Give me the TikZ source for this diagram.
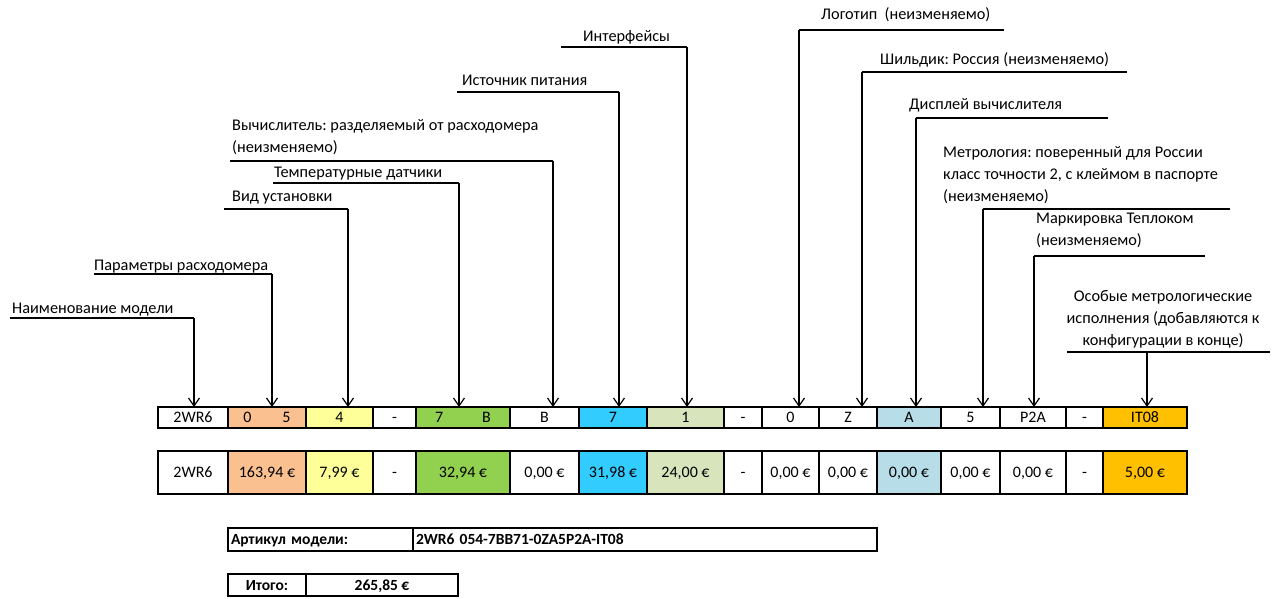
\documentclass[tikz,border=0pt]{standalone}
\usepackage{fontspec}
\setmainfont{Carlito}
\frenchspacing
\usetikzlibrary{arrows.meta}
\definecolor{cOrange}{HTML}{FAC090}
\definecolor{cYellow}{HTML}{FFFF99}
\definecolor{cGreen}{HTML}{92D050}
\definecolor{cCyan}{HTML}{33CCFF}
\definecolor{cLGreen}{HTML}{D8E4BC}
\definecolor{cLBlue}{HTML}{B7DEE8}
\definecolor{cGold}{HTML}{FFC000}
\tikzset{
  lbl/.style={inner sep=0pt, anchor=base west, font=\fontsize{16.3}{22}\selectfont, align=left},
  lblc/.style={inner sep=0pt, anchor=base, font=\fontsize{16.3}{22}\selectfont, align=center},
  hline/.style={line width=1.8pt},
  arr/.style={line width=1.2pt, -{Straight Barb[length=8pt,width=11pt,line width=1.2pt]}},
  cellbox/.style={draw, line width=2pt, inner sep=0pt, outer sep=0pt, text height=10.3pt, text depth=0pt, font=\fontsize{16}{18}\selectfont},
  boxleft/.style={draw, line width=2pt, inner sep=0pt, outer sep=0pt, text height=10pt, text depth=0pt, font=\bfseries\fontsize{15.5}{18}\selectfont, align=left},
  boxmid/.style={draw, line width=2pt, inner sep=0pt, outer sep=0pt, text height=10pt, text depth=0pt, font=\bfseries\fontsize{15.5}{18}\selectfont}
}
% cell macro: name, left, right, ycenter, height, fill, text
\newcommand{\mycell}[7]{%
  \pgfmathsetmacro{\cw}{#3-#2}\pgfmathsetmacro{\cx}{(#2+#3)/2}%
  \node[cellbox, fill=#6, minimum width=\cw pt, minimum height=#5pt] (#1) at (\cx,#4) {#7};}
\begin{document}
\begin{tikzpicture}[x=1pt,y=-1pt]
\useasboundingbox (0,0) rectangle (1279,598);
% ---------- code row ----------
\mycell{c1}{158}{228}{417.5}{21}{white}{2WR6}
\mycell{c2}{228}{306}{417.5}{21}{cOrange}{0\hspace{31pt}5}
\mycell{c3}{306}{373}{417.5}{21}{cYellow}{4}
\mycell{c4}{373}{416}{417.5}{21}{white}{-}
\mycell{c5}{416}{510}{417.5}{21}{cGreen}{7\hspace{39pt}B}
\mycell{c6}{510}{579}{417.5}{21}{white}{B}
\mycell{c7}{579}{647}{417.5}{21}{cCyan}{7}
\mycell{c8}{647}{724}{417.5}{21}{cLGreen}{1}
\mycell{c9}{724}{762}{417.5}{21}{white}{-}
\mycell{c10}{762}{819}{417.5}{21}{white}{0}
\mycell{c11}{819}{877}{417.5}{21}{white}{Z}
\mycell{c12}{877}{941}{417.5}{21}{cLBlue}{A}
\mycell{c13}{941}{1000}{417.5}{21}{white}{5}
\mycell{c14}{1000}{1066}{417.5}{21}{white}{P2A}
\mycell{c15}{1066}{1103}{417.5}{21}{white}{-}
\mycell{c16}{1103}{1187}{417.5}{21}{cGold}{IT08}
% ---------- price row ----------
\mycell{p1}{158}{228}{472.5}{43}{white}{2WR6}
\mycell{p2}{228}{306}{472.5}{43}{cOrange}{163,94 €}
\mycell{p3}{306}{373}{472.5}{43}{cYellow}{7,99 €}
\mycell{p4}{373}{416}{472.5}{43}{white}{-}
\mycell{p5}{416}{510}{472.5}{43}{cGreen}{32,94 €}
\mycell{p6}{510}{579}{472.5}{43}{white}{0,00 €}
\mycell{p7}{579}{647}{472.5}{43}{cCyan}{31,98 €}
\mycell{p8}{647}{724}{472.5}{43}{cLGreen}{24,00 €}
\mycell{p9}{724}{762}{472.5}{43}{white}{-}
\mycell{p10}{762}{819}{472.5}{43}{white}{0,00 €}
\mycell{p11}{819}{877}{472.5}{43}{white}{0,00 €}
\mycell{p12}{877}{941}{472.5}{43}{cLBlue}{0,00 €}
\mycell{p13}{941}{1000}{472.5}{43}{white}{0,00 €}
\mycell{p14}{1000}{1066}{472.5}{43}{white}{0,00 €}
\mycell{p15}{1066}{1103}{472.5}{43}{white}{-}
\mycell{p16}{1103}{1187}{472.5}{43}{cGold}{5,00 €}
% ---------- labels ----------
\node[lbl] (t1) at (12,313) {Наименование модели};
\coordinate (h1) at (10,318); \coordinate (v1) at (194,318);
\draw[hline] (h1) -- (v1); \draw[arr] (v1) -- (v1 |- c1.north);

\node[lbl] (t2) at (94,270) {Параметры расходомера};
\coordinate (h2) at (94,274); \coordinate (v2) at (272,274);
\draw[hline] (h2) -- (v2); \draw[arr] (v2) -- (v2 |- c2.north);

\node[lbl] (t3) at (232,201) {Вид установки};
\coordinate (h3) at (224,209); \coordinate (v3) at (348,209);
\draw[hline] (h3) -- (v3); \draw[arr] (v3) -- (v3 |- c3.north);

\node[lbl] (t4) at (274,177) {Температурные датчики};
\coordinate (h4) at (273,183); \coordinate (v4) at (459,183);
\draw[hline] (h4) -- (v4); \draw[arr] (v4) -- (v4 |- c5.north);

\node[lbl] (t5) at (232,152) {Вычислитель: разделяемый от расходомера\\(неизменяемо)};
\coordinate (h5) at (230,161); \coordinate (v5) at (553,161);
\draw[hline] (h5) -- (v5); \draw[arr] (v5) -- (v5 |- c6.north);

\node[lbl] (t6) at (462,85) {Источник питания};
\coordinate (h6) at (457,92); \coordinate (v6) at (619,92);
\draw[hline] (h6) -- (v6); \draw[arr] (v6) -- (v6 |- c7.north);

\node[lbl] (t7) at (583,41) {Интерфейсы};
\coordinate (h7) at (561,47); \coordinate (v7) at (687,47);
\draw[hline] (h7) -- (v7); \draw[arr] (v7) -- (v7 |- c8.north);

\node[lbl] (t8) at (821,19) {Логотип\ \ (неизменяемо)};
\coordinate (v8) at (799,30); \coordinate (h8) at (1004,30);
\draw[hline] (v8) -- (h8); \draw[arr] (v8) -- (v8 |- c10.north);

\node[lbl] (t9) at (880,64) {Шильдик: Россия (неизменяемо)};
\coordinate (v9) at (862,72); \coordinate (h9) at (1127,72);
\draw[hline] (v9) -- (h9); \draw[arr] (v9) -- (v9 |- c11.north);

\node[lbl] (t10) at (909,109) {Дисплей вычислителя};
\coordinate (v10) at (916,118); \coordinate (h10) at (1108,118);
\draw[hline] (v10) -- (h10); \draw[arr] (v10) -- (v10 |- c12.north);

\node[lbl] (t11) at (943,201) {Метрология: поверенный для России\\класс точности 2, с клеймом в паспорте\\(неизменяемо)};
\coordinate (v11) at (983,209); \coordinate (h11) at (1230,209);
\draw[hline] (v11) -- (h11); \draw[arr] (v11) -- (v11 |- c13.north);

\node[lbl] (t12) at (1036,245) {Маркировка Теплоком\\(неизменяемо)};
\coordinate (v12) at (1034,256); \coordinate (h12) at (1205,256);
\draw[hline] (v12) -- (h12); \draw[arr] (v12) -- (v12 |- c14.north);

\node[lblc] (t13) at (1163,345) {Особые метрологические\\исполнения (добавляются к\\конфигурации в конце)};
\coordinate (hs13) at (1067,352); \coordinate (v13) at (1147,352); \coordinate (he13) at (1270,352);
\draw[hline] (hs13) -- (he13); \draw[arr] (v13) -- (v13 |- c16.north);
% ---------- bottom boxes ----------
\node[boxleft, minimum width=185pt, minimum height=23pt, text width=179pt, anchor=west] (a1) at (228,539.5) {Артикул модели:};
\node[boxleft, minimum width=464pt, minimum height=23pt, text width=458pt, anchor=west] (a2) at (a1.east) {2WR6 054-7BB71-0ZA5P2A-IT08};
\node[boxmid, minimum width=78pt, minimum height=22pt, anchor=west] (i1) at (228,585) {Итого:};
\node[boxmid, minimum width=152pt, minimum height=22pt, anchor=west] (i2) at (i1.east) {265,85 €};
\end{tikzpicture}
\end{document}
